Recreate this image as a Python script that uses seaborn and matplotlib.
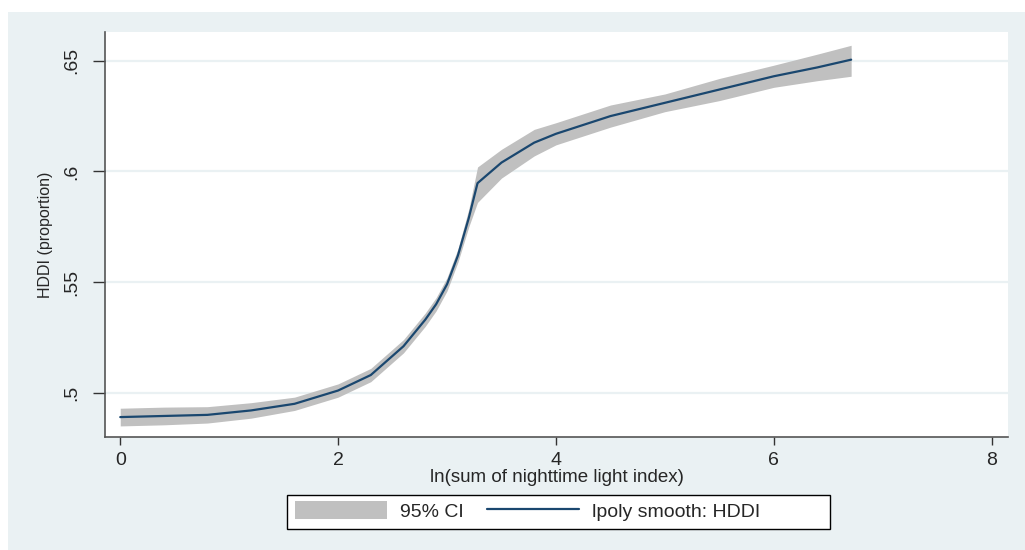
import matplotlib
matplotlib.use("Agg")
import matplotlib.pyplot as plt
from matplotlib.patches import Rectangle, Patch
from matplotlib.lines import Line2D
import pandas as pd
import seaborn as sns

# values (lpoly smooth of HDDI on ln nighttime light)
light = [0.0, 0.4, 0.8, 1.2, 1.6, 2.0, 2.3, 2.6, 2.8, 2.9, 3.0, 3.1, 3.2, 3.28,
         3.5, 3.8, 4.0, 4.5, 5.0, 5.5, 6.0, 6.4, 6.71]
hddi = [0.489, 0.4895, 0.490, 0.492, 0.495, 0.501, 0.508, 0.521, 0.533, 0.540, 0.549,
        0.562, 0.579, 0.5947, 0.604, 0.613, 0.617, 0.625, 0.631, 0.637, 0.643,
        0.647, 0.6505]
ci_low = [0.485, 0.4855, 0.4863, 0.4885, 0.492, 0.498, 0.505, 0.518, 0.530, 0.537, 0.546,
          0.559, 0.575, 0.586, 0.597, 0.607, 0.612, 0.620, 0.627, 0.632, 0.638,
          0.641, 0.643]
ci_high = [0.493, 0.4935, 0.4937, 0.4955, 0.498, 0.504, 0.511, 0.524, 0.536, 0.543, 0.552,
           0.565, 0.583, 0.602, 0.610, 0.619, 0.622, 0.630, 0.635, 0.642, 0.648,
           0.653, 0.657]
y_ticks = [0.5, 0.55, 0.6, 0.65]
y_labels = [".5", ".55", ".6", ".65"]
x_ticks = [0, 2, 4, 6, 8]

df = pd.DataFrame({"light": light, "hddi": hddi, "lo": ci_low, "hi": ci_high})

BG = "#eaf1f3"
NAVY = "#1a476f"
BAND = "#c0c0c0"

sns.set_theme(style="ticks")
plt.rcParams["font.family"] = ["Liberation Sans", "DejaVu Sans"]

fig = plt.figure(figsize=(10.25, 5.5), dpi=100, facecolor="white")
# stata-style outer panel, kept behind the axes
fig.patches.append(Rectangle((8 / 1025, 0), 1, 1 - 12 / 550, transform=fig.transFigure,
                             facecolor=BG, edgecolor="none", zorder=-10))
ax = fig.add_axes([105 / 1025, 1 - 437 / 550, 903 / 1025, 405 / 550])
ax.set_facecolor("white")

for y in y_ticks:
    ax.axhline(y, color=BG, lw=1.6, zorder=0)

ax.fill_between(df["light"], df["lo"], df["hi"], color=BAND, lw=0, zorder=1)
sns.lineplot(data=df, x="light", y="hddi", ax=ax, color=NAVY, lw=1.6, zorder=2)

ax.set_xlim(-0.14, 8.15)
ax.set_ylim(0.480, 0.663)
ax.set_xticks(x_ticks)
ax.set_yticks(y_ticks)
ax.set_yticklabels(y_labels)
ax.tick_params(axis="y", labelrotation=90, length=8.5, width=1, pad=9,
               labelsize=14, color="#333333")
ax.tick_params(axis="x", length=6, width=1, pad=5, labelsize=14, color="#333333")
for lab in ax.get_yticklabels():
    lab.set_va("center")

for s in ["top", "right"]:
    ax.spines[s].set_visible(False)
for s in ["left", "bottom"]:
    ax.spines[s].set_color("#555555")
    ax.spines[s].set_linewidth(1.2)

ax.set_xlabel("ln(sum of nighttime light index)", fontsize=13.5, labelpad=0)
ax.set_ylabel("HDDI (proportion)", fontsize=11.5, labelpad=8)

# legend box drawn separately so it keeps stata's wide right margin
fig.patches.append(Rectangle((287 / 1025, 1 - 529 / 550), 543 / 1025, 34 / 550,
                             transform=fig.transFigure, facecolor="white",
                             edgecolor="black", lw=1.0, zorder=1))
handles = [Patch(facecolor=BAND, edgecolor="none"),
           Line2D([], [], color=NAVY, lw=1.6)]
leg = fig.legend(handles, ["95% CI", "lpoly smooth: HDDI"], ncol=2,
                 loc="center left", bbox_to_anchor=(295 / 1025, 1 - 511 / 550),
                 frameon=False, fontsize=14, handlelength=4.73, handleheight=1.0,
                 handletextpad=0.67, columnspacing=1.18, borderpad=0,
                 borderaxespad=0)

fig.savefig("out.png", dpi=100, facecolor="white")
